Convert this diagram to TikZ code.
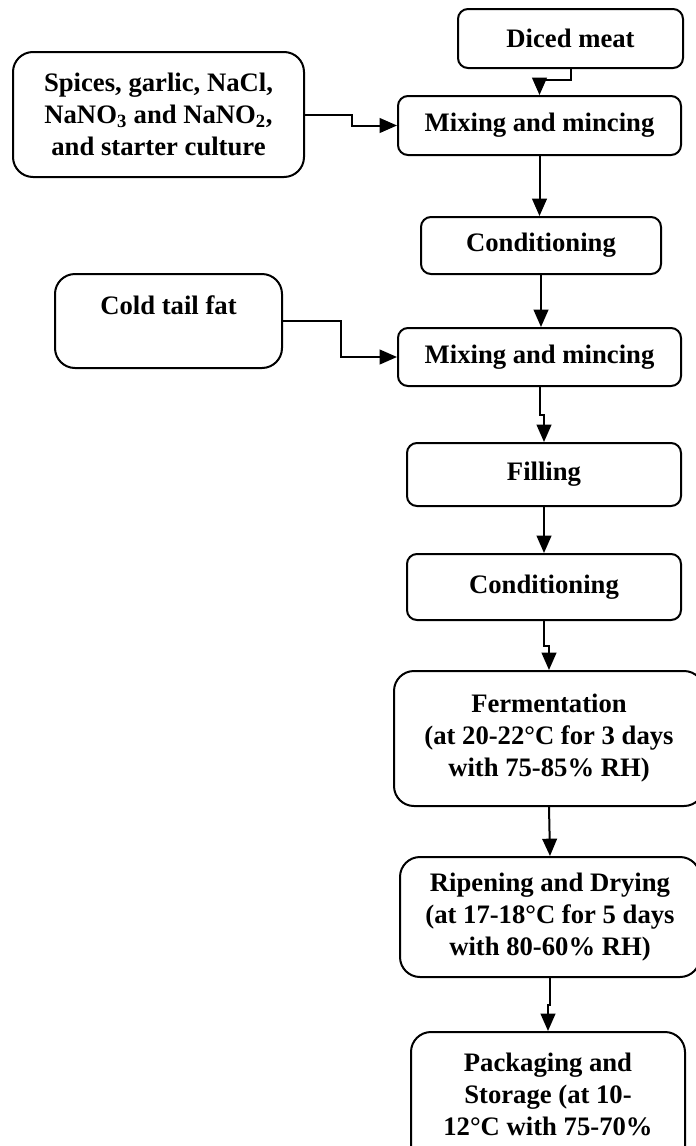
\documentclass[tikz,border=0pt]{standalone}
\usepackage{fontspec}
\setmainfont{Liberation Serif}
\usetikzlibrary{arrows.meta, positioning}
\tikzset{
  stepbox/.style={draw, line width=1.5pt, rounded corners=7.5pt, align=center,
    inner sep=0pt, font=\fontsize{20}{24}\selectfont\bfseries},
  bigbox/.style={stepbox, rounded corners=15pt},
  arr/.style={line width=1.5pt, -{Triangle[length=13pt,width=11pt]}}
}
\begin{document}
\begin{tikzpicture}[x=0.75pt, y=-0.75pt]
      \useasboundingbox (0,0) rectangle (696,1146);
      \clip (0,0) rectangle (696,1146);

      % Main line
      \node[stepbox, minimum width=168.75pt, minimum height=44.25pt] (diced) at (570.5,38.5) {Diced meat};
      \node[stepbox, minimum width=212.25pt, minimum height=44.25pt] (mixA) at (539.5,125.5) {Mixing and mincing};
      \node[stepbox, minimum width=180pt, minimum height=42.75pt] (condA) at (541,245.5) {Conditioning};
      \node[stepbox, minimum width=212.25pt, minimum height=43.5pt] (mixB) at (539.5,357) {Mixing and mincing};
      \node[stepbox, minimum width=205.5pt, minimum height=47.25pt] (fill) at (544,474.5) {Filling};
      \node[stepbox, minimum width=205.5pt, minimum height=49.5pt] (condB) at (544,587) {Conditioning};
      \node[bigbox, minimum width=232.5pt, minimum height=101.25pt] (ferm) at (549,738.5)
           {Fermentation\\(at 20-22°C for 3 days\\with 75-85\% RH)};
      \node[bigbox, minimum width=225pt, minimum height=90pt] (ripen) at (550,917)
           {Ripening and Drying\\(at 17-18°C for 5 days\\with 80-60\% RH)};
      \node[bigbox, minimum width=205.5pt, inner ysep=16pt, text depth=43pt, anchor=north] (pack) at (548,1031)
           {Packaging and\\Storage (at 10-\\12°C with 75-70\%};

      % Side inputs
      \node[bigbox, minimum width=218.25pt, minimum height=93.75pt] (spices) at (158.5,114.5)
           {Spices, garlic, NaCl,\\NaNO\textsubscript{3} and NaNO\textsubscript{2},\\and starter culture};
      \node[bigbox, minimum width=170.25pt, text height=30pt, text depth=40.5pt] (fat) at (168.5,321) {Cold tail fat};

      % Connectors
      \draw[arr] (diced.south) -- ++(0,11) -| (mixA.north);
      \draw[arr] (spices.east) -- ++(47,0) |- (mixA.west);
      \draw[arr] (mixA.south) -- (mixA.south |- condA.north);
      \draw[arr] (condA.south) -- (condA.south |- mixB.north);
      \draw[arr] (fat.east) -- ++(58,0) |- (mixB.west);
      \draw[arr] (mixB.south) -- ++(0,28) -| (fill.north);
      \draw[arr] (fill.south) -- (condB.north);
      \draw[arr] (condB.south) -- ++(0,25) -| (ferm.north);
      \draw[arr] (ferm.south) -- (ripen.north);
      \draw[arr] (ripen.south) -- ++(0,27) -| (pack.north);
\end{tikzpicture}
\end{document}
